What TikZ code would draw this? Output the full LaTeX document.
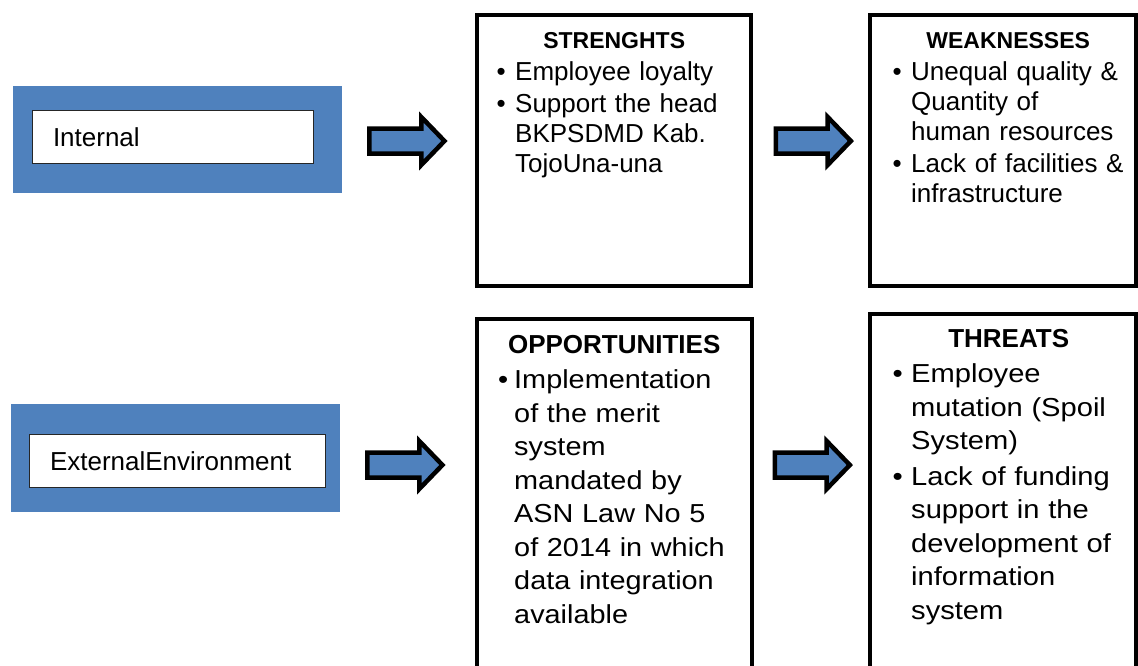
\documentclass[tikz,border=0pt]{standalone}
\usepackage{fontspec}
\setmainfont{Liberation Sans}
\newfontfamily\oppfont[FakeStretch=1.11]{Liberation Sans}
\newfontfamily\thrfont[FakeStretch=1.12]{Liberation Sans}
\usetikzlibrary{positioning,shapes.arrows}
\definecolor{swotblue}{HTML}{4F81BD}
\newlength\bhang
\setlength\bhang{18.5pt}
\newcommand\bitem[1]{\par\vspace{2pt}\hangindent=\bhang\hangafter=1\noindent\makebox[\bhang][l]{\textbullet}#1\par}
\tikzset{
    bluebox/.style={rectangle, fill=swotblue, inner sep=0pt},
    labelbox/.style={rectangle, draw=black!85, fill=white, line width=1pt, minimum height=53pt, inner xsep=20.5pt, align=left, font=\fontsize{26}{30}\selectfont},
    swotbox/.style={rectangle, draw=black, line width=4pt, minimum height=271pt, inner sep=0pt},
    swottext/.style={anchor=base west, inner sep=0pt, align=left},
    bigarrow/.style={single arrow, draw=black, line width=4.5pt, fill=swotblue, minimum height=75pt, inner sep=10.25pt, single arrow head extend=11.5pt, single arrow tip angle=92}
}
\begin{document}
\begin{tikzpicture}[x=1pt, y=1pt]
    \useasboundingbox (0,0) rectangle (1138,-665);
    \clip (0,0) rectangle (1138,-665);
    \node[bluebox, minimum width=329pt, minimum height=107pt] (internal) at (177.5,-139.5) {};
    \node[labelbox, text width=240pt] (internallabel) at (173,-137) {Internal};
    \node[bluebox, minimum width=329pt, minimum height=108pt] (external) at (175.5,-458) {};
    \node[labelbox, text width=255pt] (externallabel) at (177.5,-461) {ExternalEnvironment};

    \node[swotbox, minimum width=274pt, anchor=north west] (strengths) at (475,-13) {};
    \node[swotbox, minimum width=266pt, right=115pt of strengths] (weaknesses) {};
    \node[swotbox, minimum width=275pt, minimum height=370pt, below=29pt of strengths] (opportunities) {};
    \node[swotbox, minimum width=266pt, minimum height=370pt, below=24pt of weaknesses] (threats) {};

    \node[bigarrow, right=25pt of internal, yshift=-1.5pt] (arrowsw) {};
    \node[bigarrow, right=326pt of arrowsw] (arrowwe) {};
    \node[bigarrow, right=25pt of external, yshift=-7pt] (arrowop) {};
    \node[bigarrow, right=327pt of arrowop] (arrowth) {};

    \node[swottext, text width=235pt, font=\fontsize{26}{30}\selectfont] (strengthstext)
      at ([xshift=21.5pt, yshift=-35pt]strengths.north west)
      {{\centering\bfseries\fontsize{23}{30}\selectfont STRENGHTS\par}
      \bitem{Employee loyalty}
      \bitem{Support the head\newline BKPSDMD Kab.\newline TojoUna-una}};
    \node[swottext, text width=231pt, font=\fontsize{26}{30}\selectfont] (weaknessestext)
      at ([xshift=24.5pt, yshift=-35pt]weaknesses.north west)
      {{\centering\bfseries\fontsize{23}{30}\selectfont WEAKNESSES\par}
      \bitem{Unequal quality \&\newline Quantity of\newline human resources}
      \bitem{Lack of facilities \&\newline infrastructure}};
    \node[swottext, text width=232pt, font=\fontsize{26}{33.5}\selectfont] (opportunitiestext)
      at ([xshift=23.5pt, yshift=-36pt]opportunities.north west)
      {{\centering\bfseries OPPORTUNITIES\par}
      \oppfont\setlength\bhang{16pt}
      \bitem{Implementation\newline of the merit\newline system\newline mandated by\newline ASN Law No 5\newline of 2014 in which\newline data integration\newline available}};
    \node[swottext, text width=232pt, font=\fontsize{26}{33.5}\selectfont] (threatstext)
      at ([xshift=24.5pt, yshift=-35pt]threats.north west)
      {{\centering\bfseries THREATS\par}
      \thrfont
      \bitem{Employee\newline mutation (Spoil\newline System)}
      \bitem{Lack of funding\newline support in the\newline development of\newline information\newline system}};
\end{tikzpicture}
\end{document}
